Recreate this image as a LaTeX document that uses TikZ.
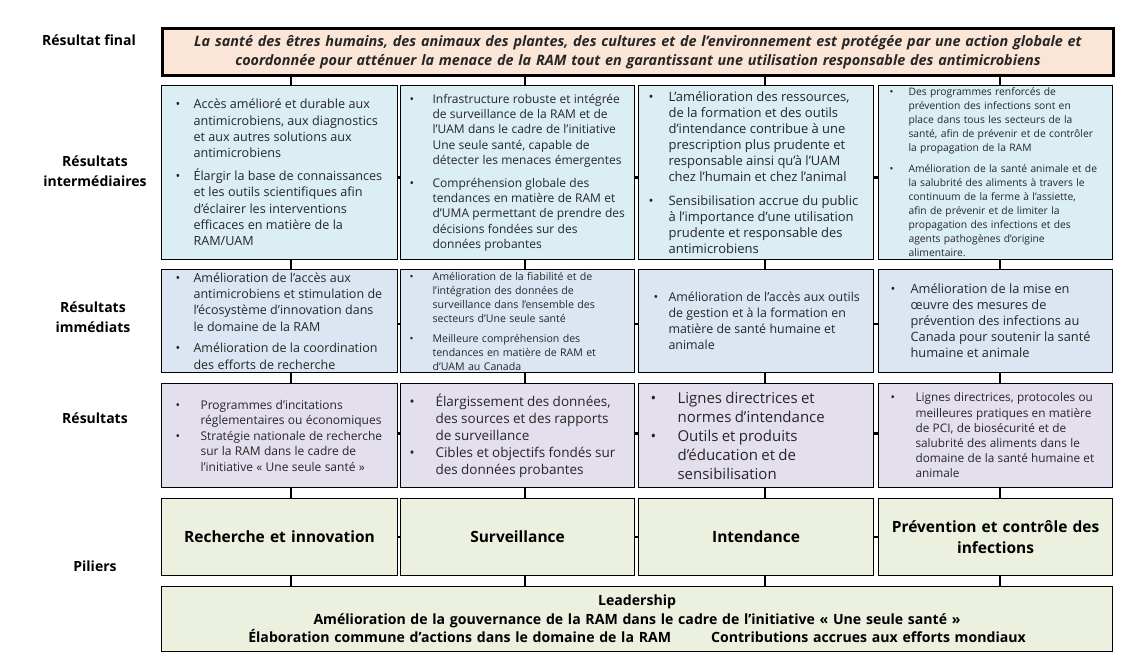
\documentclass[tikz,border=0pt]{standalone}
\usepackage{fontspec}
\setmainfont{Open Sans}
\usetikzlibrary{backgrounds}
\definecolor{peach}{HTML}{FBE5D6}
\definecolor{rowA}{HTML}{DAEEF3}
\definecolor{rowB}{HTML}{DCE6F2}
\definecolor{rowC}{HTML}{E4DFEC}
\definecolor{pill}{HTML}{EBF1DE}
\definecolor{txt}{HTML}{262626}
\newdimen\bgap
\newcommand\setind[2]{\leftskip=#1pt\relax\bgap=\dimexpr#1pt-#2pt\relax}
\newcommand\itm{\noindent\llap{\makebox[\bgap][l]{\textbullet}}}
\newcommand\fs[2]{\fontsize{#1}{#2}\selectfont}
\newcommand\cell[7]{\node[cell, fill=#6, text width=#4pt, minimum height=#5pt] (#1) at (#2,#3) {#7};}
\tikzset{
  cell/.style={draw=black, line width=1.1pt, inner sep=0pt, anchor=north west, align=left, text=txt},
  ctr/.style={draw=black, line width=1.1pt, inner sep=0pt, anchor=north west, align=center, text=black, font=\bfseries},
  rowlabel/.style={align=center, font=\fs{14}{20}\bfseries, text=black, inner sep=0pt},
  grid/.style={draw=black, line width=2.2pt}
}
\begin{document}
\begin{tikzpicture}[x=1pt,y=-1pt]
\useasboundingbox (0,0) rectangle (1146,657);
% banner
\node[ctr, line width=3pt, fill=peach, text width=951pt, minimum height=47pt, font=\fs{14.4}{19}\bfseries\itshape, text=txt] (banner) at (161,27)
 {La santé des êtres humains, des animaux des plantes, des cultures et de l’environnement est protégée par une action globale et\\coordonnée pour atténuer la menace de la RAM tout en garantissant une utilisation responsable des antimicrobiens};
% row 1
\cell{a1}{161}{85}{236}{174}{rowA}{\fs{12.6}{16.3}\setind{32}{14}\itm Accès amélioré et durable aux\\antimicrobiens, aux diagnostics\\et aux autres solutions aux\\antimicrobiens\par\vspace{6.5pt}\itm Élargir la base de connaissances\\et les outils scientifiques afin\\d’éclairer les interventions\\efficaces en matière de la\\RAM/UAM\par}
\cell{a2}{400}{85}{234}{174}{rowA}{\fs{12}{15.3}\setind{32}{9}\itm Infrastructure robuste et intégrée\\de surveillance de la RAM et de\\l’UAM dans le cadre de l’initiative\\Une seule santé, capable de\\détecter les menaces émergentes\par\vspace{7.5pt}\itm Compréhension globale des\\tendances en matière de RAM et\\d’UMA permettant de prendre des\\décisions fondées sur des\\données probantes\par}
\cell{a3}{638}{85}{235}{174}{rowA}{\fs{13}{16}\setind{30}{10}\itm L’amélioration des ressources,\\de la formation et des outils\\d’intendance contribue à une\\prescription plus prudente et\\responsable ainsi qu’à l’UAM\\chez l’humain et chez l’animal\par\vspace{8pt}\itm Sensibilisation accrue du public\\à l’importance d’une utilisation\\prudente et responsable des\\antimicrobiens\par}
\cell{a4}{878}{85}{234}{174}{rowA}{\fs{10.3}{14}\setind{30}{11}\itm Des programmes renforcés de\\prévention des infections sont en\\place dans tous les secteurs de la\\santé, afin de prévenir et de contrôler\\la propagation de la RAM\par\vspace{7pt}\itm Amélioration de la santé animale et de\\la salubrité des aliments à travers le\\continuum de la ferme à l’assiette,\\afin de prévenir et de limiter la\\propagation des infections et des\\agents pathogènes d’origine\\alimentaire.\par}
% row 2
\cell{b1}{161}{269}{236}{103}{rowB}{\fs{12.5}{16.3}\setind{32}{14}\itm Amélioration de l’accès aux\\antimicrobiens et stimulation de\\l’écosystème d’innovation dans\\le domaine de la RAM\par\vspace{5.5pt}\itm Amélioration de la coordination\\des efforts de recherche\par}
\cell{b2}{400}{269}{234}{103}{rowB}{\fs{10.6}{14}\setind{32}{9}\itm Amélioration de la fiabilité et de\\l’intégration des données de\\surveillance dans l’ensemble des\\secteurs d’Une seule santé\par\vspace{6pt}\itm Meilleure compréhension des\\tendances en matière de RAM et\\d’UAM au Canada\par}
\cell{b3}{638}{269}{235}{103}{rowB}{\fs{12.4}{16}\setind{30}{15}\itm Amélioration de l’accès aux outils\\de gestion et à la formation en\\matière de santé humaine et\\animale\par}
\cell{b4}{878}{269}{234}{103}{rowB}{\fs{12.8}{16}\setind{32}{12}\itm Amélioration de la mise en\\œuvre des mesures de\\prévention des infections au\\Canada pour soutenir la santé\\humaine et animale\par}
% row 3
\cell{c1}{161}{383}{236}{104}{rowC}{\fs{12}{15.5}\setind{39}{14}\itm Programmes d’incitations\\réglementaires ou économiques\par\itm Stratégie nationale de recherche\\sur la RAM dans le cadre de\\l’initiative «~Une seule santé~»\par}
\cell{c2}{400}{383}{234}{104}{rowC}{\fs{13.5}{17}\setind{35}{9}\itm Élargissement des données,\\des sources et des rapports\\de surveillance\par\itm Cibles et objectifs fondés sur\\des données probantes\par}
\cell{c3}{638}{383}{235}{104}{rowC}{\fs{15}{19}\setind{39}{12}\itm Lignes directrices et\\normes d’intendance\par\itm Outils et produits\\d’éducation et de\\sensibilisation\par}
\cell{c4}{878}{383}{234}{104}{rowC}{\fs{11.8}{15.2}\setind{37}{12}\itm Lignes directrices, protocoles ou\\meilleures pratiques en matière\\de PCI, de biosécurité et de\\salubrité des aliments dans le\\domaine de la santé humaine et\\animale\par}
% pillars
\node[ctr, fill=pill, text width=236pt, minimum height=77pt, font=\fs{15.5}{21}\bfseries] (p1) at (161,498) {Recherche et innovation};
\node[ctr, fill=pill, text width=234pt, minimum height=77pt, font=\fs{15.5}{21}\bfseries] (p2) at (400,498) {Surveillance};
\node[ctr, fill=pill, text width=235pt, minimum height=77pt, font=\fs{15.5}{21}\bfseries] (p3) at (638,498) {Intendance};
\node[ctr, fill=pill, text width=234pt, minimum height=77pt, font=\fs{15.5}{21}\bfseries] (p4) at (878,498) {Prévention et contrôle des\\infections};
% leadership
\node[ctr, fill=pill, text width=951pt, minimum height=65pt, font=\fs{14.1}{18.5}\bfseries] (lead) at (161,586)
 {Leadership\\Amélioration de la gouvernance de la RAM dans le cadre de l’initiative «~Une seule santé~»\\Élaboration commune d’actions dans le domaine de la RAM\hspace{40pt}Contributions accrues aux efforts mondiaux};
% row labels
\node[rowlabel] (l0) at (89,40) {Résultat final};
\node[rowlabel] (l1) at (95,171) {Résultats\\intermédiaires};
\node[rowlabel] (l2) at (93,317) {Résultats\\immédiats};
\node[rowlabel] (l3) at (95,418) {Résultats};
\node[rowlabel] (l4) at (95,566) {Piliers};
% grid connectors
\coordinate (k1) at (291,0);
\coordinate (k2) at (525,0);
\coordinate (k3) at (765,0);
\coordinate (k4) at (1000,0);
\begin{pgfonlayer}{background}
\foreach \k in {k1,k2,k3,k4} \draw[grid] (banner.south -| \k) -- (lead.north -| \k);
\draw[grid] ([yshift=-5pt]a1.center) -- ([yshift=-5pt]a4.center);
\draw[grid] ([yshift=-3pt]b1.center) -- ([yshift=-3pt]b4.center);
\draw[grid] ([yshift=2pt]c1.center) -- ([yshift=2pt]c4.center);
\draw[grid] (p1.center) -- (p4.center);
\end{pgfonlayer}
\end{tikzpicture}
\end{document}
